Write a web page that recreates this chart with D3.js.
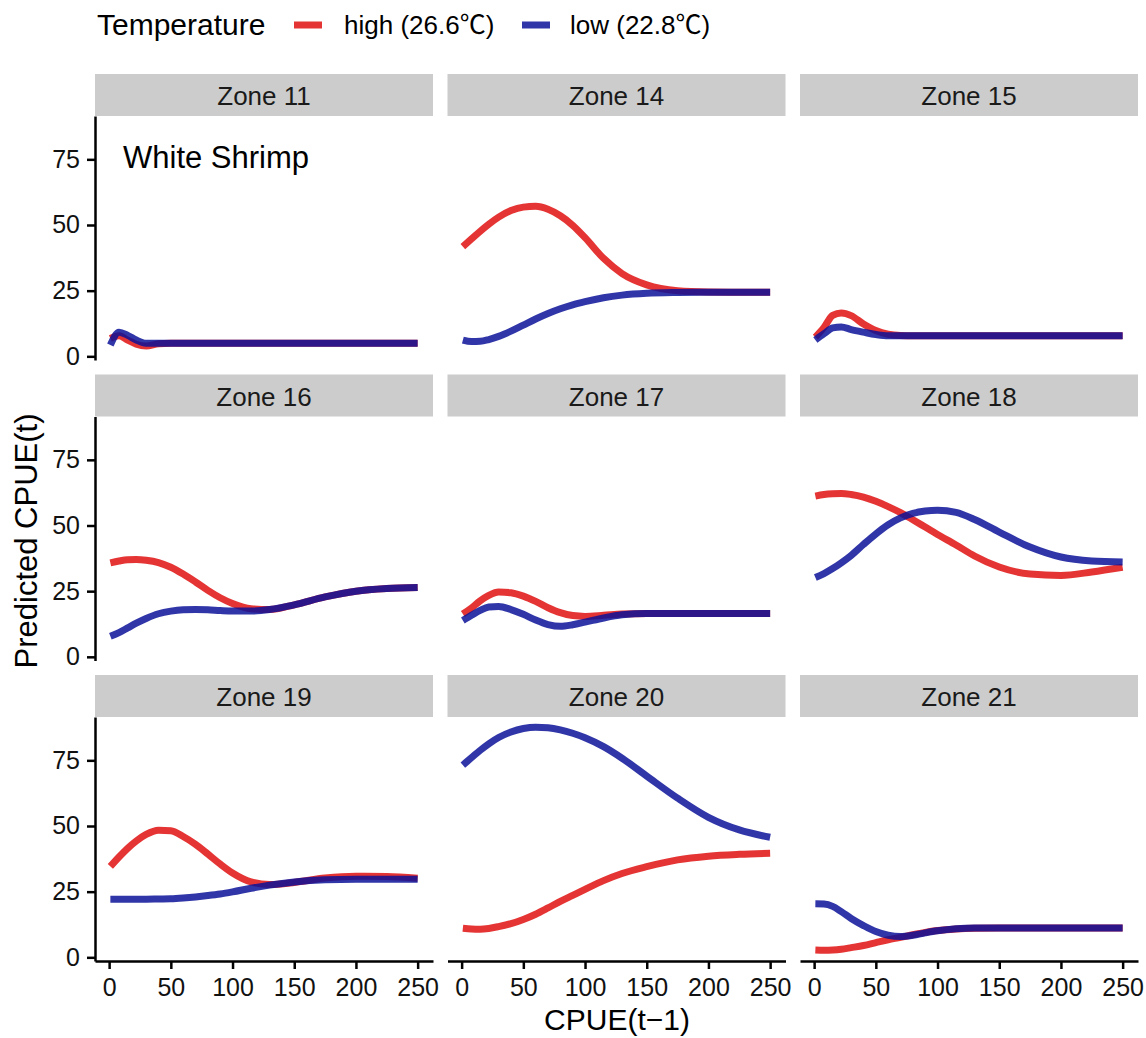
<!DOCTYPE html>
<html>
<head>
<meta charset="utf-8">
<script src="https://cdn.jsdelivr.net/npm/d3@7"></script>
<style>
  html, body { margin: 0; padding: 0; background: #fff; }
  svg { display: block; font-family: "Liberation Sans", Arial, "Noto Sans CJK SC", sans-serif; }
</style>
</head>
<body>
<svg id="chart" width="1146" height="1038"></svg>
<script>
// ---------------- DATA ----------------
const zones = ["Zone 11", "Zone 14", "Zone 15", "Zone 16", "Zone 17", "Zone 18", "Zone 19", "Zone 20", "Zone 21"];
const seriesNames = ["high (26.6\u2103)", "low (22.8\u2103)"];
const legendTitle = "Temperature";
const xTicks = [0, 50, 100, 150, 200, 250];
const yTicks = [0, 25, 50, 75];
const cpuePrev = [1, 8, 15, 22, 30, 40, 50, 60, 70, 80, 90, 100, 115, 130, 150, 175, 200, 225, 250];

const zone11High = [6.8, 7.8, 6.2, 4.6, 3.9, 4.8, 5.0, 5.0, 5.0, 5.0, 5.0, 5.0, 5.0, 5.0, 5.0, 5.0, 5.0, 5.0, 5.0];
const zone11Low  = [4.3, 9.2, 8.0, 6.2, 5.0, 5.0, 5.0, 5.0, 5.0, 5.0, 5.0, 5.0, 5.0, 5.0, 5.0, 5.0, 5.0, 5.0, 5.0];
const zone14High = [41.8, 44.7, 47.6, 50.3, 53.0, 55.5, 56.8, 57.1, 56.0, 53.5, 49.9, 45.2, 37.3, 31.5, 27.2, 25.0, 24.5, 24.4, 24.4];
const zone14Low  = [6.2, 5.6, 5.7, 6.4, 7.6, 9.6, 11.9, 14.2, 16.3, 18.1, 19.6, 20.8, 22.3, 23.3, 24.0, 24.3, 24.4, 24.4, 24.4];
const zone15High = [7.3, 11.0, 15.6, 16.5, 15.5, 12.3, 9.8, 8.4, 7.9, 7.8, 7.8, 7.8, 7.8, 7.8, 7.8, 7.8, 7.8, 7.8, 7.8];
const zone15Low  = [6.2, 8.6, 10.8, 11.2, 10.2, 9.2, 8.3, 7.8, 7.8, 7.8, 7.8, 7.8, 7.8, 7.8, 7.8, 7.8, 7.8, 7.8, 7.8];
const zone16High = [35.8, 36.5, 37.0, 37.1, 36.8, 35.9, 34.1, 31.5, 28.5, 25.3, 22.5, 20.3, 18.3, 18.0, 19.8, 22.8, 25.0, 26.0, 26.4];
const zone16Low  = [7.8, 9.2, 11.0, 12.8, 14.6, 16.4, 17.4, 17.9, 18.0, 17.9, 17.6, 17.4, 17.4, 18.0, 19.8, 22.8, 25.0, 26.0, 26.4];
const zone17High = [16.3, 18.6, 21.3, 23.4, 24.7, 24.4, 23.1, 21.1, 18.7, 16.8, 15.7, 15.4, 15.8, 16.3, 16.5, 16.5, 16.5, 16.5, 16.5];
const zone17Low  = [13.8, 15.8, 17.7, 19.0, 19.2, 18.0, 16.2, 14.0, 12.3, 11.6, 12.2, 13.2, 14.8, 16.0, 16.5, 16.5, 16.5, 16.5, 16.5];
const zone18High = [61.2, 61.8, 62.1, 62.2, 61.8, 60.8, 59.2, 57.2, 54.9, 52.2, 49.4, 46.6, 42.6, 38.4, 34.2, 31.5, 31.0, 32.3, 34.1];
const zone18Low  = [30.2, 31.7, 33.6, 35.8, 38.6, 42.8, 46.8, 50.3, 52.9, 54.6, 55.5, 55.8, 55.0, 52.3, 47.5, 41.8, 38.0, 36.5, 36.1];
const zone19High = [34.6, 38.2, 41.5, 44.3, 46.8, 48.4, 48.2, 46.0, 43.0, 39.3, 35.5, 32.1, 28.7, 27.7, 28.5, 30.2, 30.9, 30.8, 30.1];
const zone19Low  = [22.1, 22.1, 22.1, 22.1, 22.1, 22.2, 22.3, 22.6, 23.0, 23.5, 24.1, 24.9, 26.3, 27.5, 28.7, 29.5, 29.7, 29.7, 29.7];
const zone20High = [11.1, 10.8, 10.7, 11.0, 11.7, 12.8, 14.4, 16.4, 18.8, 21.3, 23.6, 25.9, 29.2, 31.9, 34.5, 37.1, 38.5, 39.2, 39.6];
const zone20Low  = [73.2, 76.0, 78.8, 81.3, 83.7, 85.8, 87.1, 87.6, 87.4, 86.6, 85.3, 83.6, 80.2, 75.8, 69.0, 60.6, 53.3, 48.5, 45.7];
const zone21High = [2.8, 2.7, 2.8, 3.1, 3.7, 4.5, 5.6, 6.7, 7.6, 8.6, 9.5, 10.2, 10.8, 11.1, 11.2, 11.2, 11.2, 11.2, 11.2];
const zone21Low  = [20.4, 20.3, 19.4, 17.4, 14.8, 12.1, 9.8, 8.4, 7.9, 8.4, 9.3, 10.1, 10.9, 11.2, 11.2, 11.2, 11.2, 11.2, 11.2];

const highSeries = [zone11High, zone14High, zone15High, zone16High, zone17High, zone18High, zone19High, zone20High, zone21High];
const lowSeries  = [zone11Low, zone14Low, zone15Low, zone16Low, zone17Low, zone18Low, zone19Low, zone20Low, zone21Low];

// ---------------- LAYOUT ----------------
const svg = d3.select("#chart");
const colLefts = [95, 447.5, 800];
const rowTops = [116, 416.5, 717];
const panelW = 338, panelH = 244, stripH = 42;
const colors = ["#e01010", "#0c1298"];
const lineOpacity = 0.85;
const lineW = 7;

const x = d3.scaleLinear().domain([-11.45, 262.45]).range([0, panelW]);
const y = d3.scaleLinear().domain([-1.4, 91.5]).range([panelH, 0]);

const line = d3.line()
  .x(d => x(d[0]))
  .y(d => y(d[1]))
  .curve(d3.curveMonotoneX);

zones.forEach((zone, i) => {
  const col = i % 3, row = Math.floor(i / 3);
  const g = svg.append("g").attr("transform", `translate(${colLefts[col]},${rowTops[row]})`);

  // strip
  g.append("rect").attr("x", 0).attr("y", -stripH).attr("width", panelW).attr("height", stripH).attr("fill", "#cccccc");
  g.append("text").attr("x", panelW / 2).attr("y", -stripH + 31).attr("text-anchor", "middle")
    .attr("font-size", 26).attr("fill", "#1a1a1a").text(zone);

  // lines: high then low
  [highSeries[i], lowSeries[i]].forEach((vals, s) => {
    const pts = cpuePrev.map((cx, k) => [cx, vals[k]]);
    g.append("path").datum(pts).attr("d", line)
      .attr("fill", "none").attr("stroke", colors[s]).attr("stroke-opacity", lineOpacity)
      .attr("stroke-width", lineW).attr("stroke-linejoin", "round").attr("stroke-linecap", "butt");
  });

  // y axis on first column
  if (col === 0) {
    const ya = g.append("g").call(d3.axisLeft(y).tickValues(yTicks).tickSize(8).tickSizeOuter(0).tickPadding(7));
    ya.select(".domain").attr("stroke", "#000").attr("stroke-width", 2.5);
    ya.selectAll(".tick line").attr("stroke", "#000").attr("stroke-width", 2.5);
    ya.selectAll(".tick text").attr("font-size", 25).attr("fill", "#111").attr("font-family", "Liberation Sans, Arial, sans-serif");
  }
  // x axis on last row
  if (row === 2) {
    const xa = g.append("g").attr("transform", `translate(0,${panelH})`)
      .call(d3.axisBottom(x).tickValues(xTicks).tickSize(8).tickSizeOuter(0).tickPadding(9.5));
    xa.select(".domain").attr("stroke", "#000").attr("stroke-width", 2.5);
    xa.selectAll(".tick line").attr("stroke", "#000").attr("stroke-width", 2.5);
    xa.selectAll(".tick text").attr("font-size", 25).attr("fill", "#111").attr("font-family", "Liberation Sans, Arial, sans-serif");
  }
  if (i === 0) {
    g.append("text").attr("x", 123 - colLefts[0]).attr("y", 168 - rowTops[0])
      .attr("font-size", 31).attr("fill", "#000").text("White Shrimp");
  }
});

// axis titles
svg.append("text").attr("x", 617).attr("y", 1030).attr("text-anchor", "middle")
  .attr("font-size", 30).attr("fill", "#000").text("CPUE(t\u22121)");
svg.append("text").attr("transform", "translate(37,541) rotate(-90)").attr("text-anchor", "middle")
  .attr("font-size", 31).attr("fill", "#000").text("Predicted CPUE(t)");

// legend
const leg = svg.append("g");
leg.append("text").attr("x", 97).attr("y", 35).attr("font-size", 30).attr("fill", "#000").text(legendTitle);
const keyX = [294, 522], labX = [344, 570];
seriesNames.forEach((name, s) => {
  leg.append("line").attr("x1", keyX[s]).attr("x2", keyX[s] + 28).attr("y1", 25).attr("y2", 25)
    .attr("stroke", colors[s]).attr("stroke-opacity", lineOpacity).attr("stroke-width", lineW);
  leg.append("text").attr("x", labX[s]).attr("y", 34).attr("font-size", 26).attr("fill", "#000").text(name);
});
</script>
</body>
</html>
